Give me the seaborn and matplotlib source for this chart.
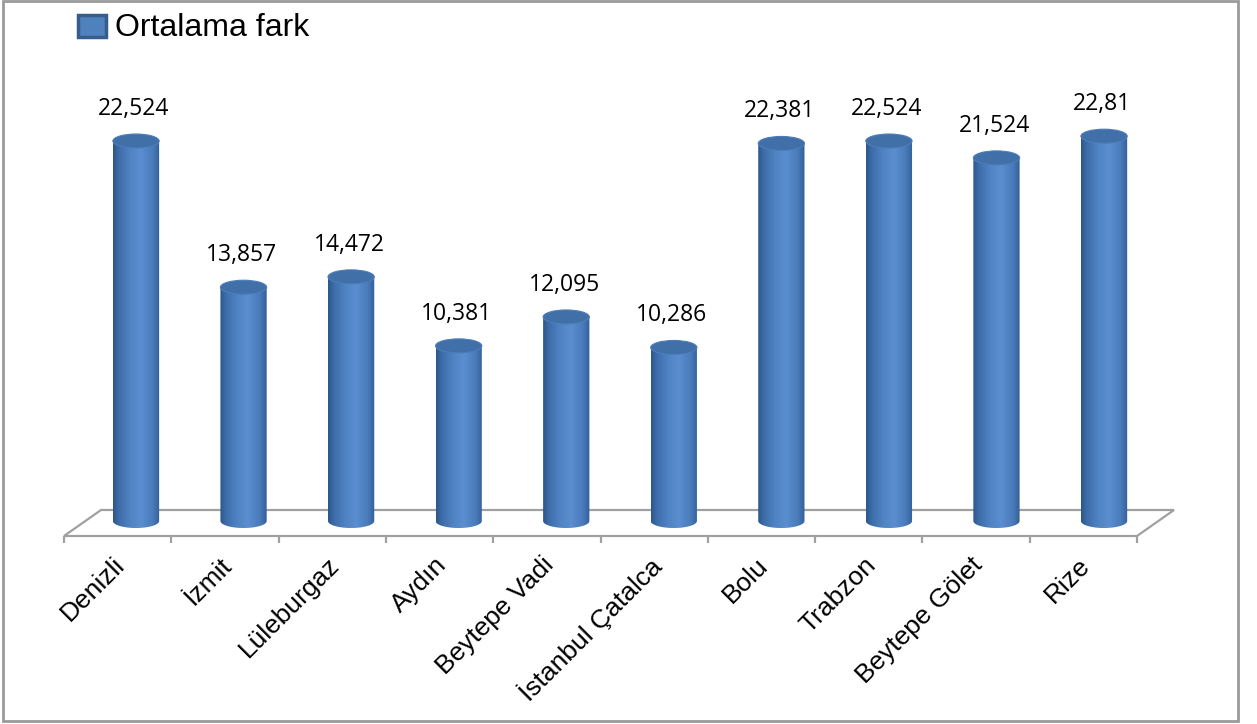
import numpy as np
import pandas as pd
import matplotlib
matplotlib.use("Agg")
import matplotlib.pyplot as plt
import seaborn as sns
from matplotlib.patches import Ellipse, PathPatch, Rectangle, Polygon
from matplotlib.path import Path
from matplotlib.colors import LinearSegmentedColormap

# ---- data ----
categories = ["Denizli", "İzmit", "Lüleburgaz", "Aydın", "Beytepe Vadi",
              "İstanbul Çatalca", "Bolu", "Trabzon", "Beytepe Gölet", "Rize"]
values = [22.524, 13.857, 14.472, 10.381, 12.095, 10.286, 22.381, 22.524, 21.524, 22.81]
value_labels = ["22,524", "13,857", "14,472", "10,381", "12,095", "10,286",
                "22,381", "22,524", "21,524", "22,81"]
series_name = "Ortalama fark"

sns.set_theme(style="white")
plt.rcParams["font.family"] = ["Liberation Sans", "DejaVu Sans"]

W, H = 1257, 724
fig = plt.figure(figsize=(W / 100, H / 100), dpi=100)

# figure border
fig.patches.append(Rectangle((3 / W, 3 / H), (1238 - 3) / W, (H - 3 - 1) / H,
                             transform=fig.transFigure, fill=False,
                             edgecolor="#9a9a9a", linewidth=2))

# axes placement (pixel based)
px_per_x = 107.56
px_per_y = 16.87
x_center0 = 136.0
base_py = 521.0
xlim = (-0.8, 9.8)
ylim = (-3.0, 28.0)
left_px = x_center0 + (xlim[0]) * px_per_x
right_px = x_center0 + (xlim[1]) * px_per_x
bot_py = base_py - ylim[0] * px_per_y
top_py = base_py - ylim[1] * px_per_y
ax = fig.add_axes([left_px / W, 1 - bot_py / H, (right_px - left_px) / W, (bot_py - top_py) / H])

df = pd.DataFrame({"cat": categories, "val": values})
bar_w = 0.43
sns.barplot(data=df, x="cat", y="val", width=bar_w, color="#4F81BD", ax=ax,
            saturation=1, zorder=3)
ax.set_xlim(*xlim)
ax.set_ylim(*ylim)
ax.axis("off")

# floor (3D-looking base)
front_y = (base_py - 536) / px_per_y
back_y = (base_py - 510) / px_per_y
front_l = (64 - x_center0) / px_per_x
front_r = (1137 - x_center0) / px_per_x
depth_dx = (101 - 64) / px_per_x
floor = Polygon([(front_l, front_y), (front_r, front_y),
                 (front_r + depth_dx, back_y), (front_l + depth_dx, back_y)],
                closed=True, facecolor="white", edgecolor="#a0a0a0", linewidth=1.6, zorder=1)
ax.add_patch(floor)
n = len(categories)
step = (front_r - front_l) / n
tick_len = 7 / px_per_y
for i in range(n + 1):
    xt = front_l + i * step
    ax.plot([xt, xt], [front_y, front_y - tick_len], color="#a0a0a0", lw=1.6, zorder=1,
            solid_capstyle="butt")

# gradient colormap for cylinders
cyl = LinearSegmentedColormap.from_list("cyl", [
    (0.0, "#2B5689"), (0.12, "#3D6CA8"), (0.35, "#4F82C2"), (0.6, "#5A8ED0"),
    (0.85, "#4A7BBA"), (1.0, "#315F98")])
grad = np.linspace(0, 1, 256).reshape(1, -1)
ell_h = 14 / px_per_y

for i, p in enumerate(list(ax.patches)):
    if not isinstance(p, Rectangle) or p is floor:
        continue
    x0, w, h = p.get_x(), p.get_width(), p.get_height()
    if w <= 0:
        continue
    p.set_visible(False)
    xc = x0 + w / 2
    # outline: rect + bottom half ellipse
    t = np.linspace(np.pi, 2 * np.pi, 60)
    arc_x = xc + (w / 2) * np.cos(t)
    arc_y = 0 + (ell_h / 2) * np.sin(t)
    verts = [(x0, h)] + list(zip(arc_x, arc_y)) + [(x0 + w, h), (x0, h)]
    codes = [Path.MOVETO] + [Path.LINETO] * (len(verts) - 2) + [Path.CLOSEPOLY]
    body = PathPatch(Path(verts, codes), transform=ax.transData, facecolor="none",
                     edgecolor="none")
    ax.add_patch(body)
    im = ax.imshow(grad, cmap=cyl, aspect="auto", extent=[x0, x0 + w, -ell_h / 2, h],
                   zorder=3, interpolation="bicubic")
    im.set_clip_path(body)
    top = Ellipse((xc, h), w, ell_h, facecolor="#416FA8", edgecolor="#4C7DBB",
                  linewidth=0.8, zorder=4)
    ax.add_patch(top)
    ax.text(xc - 0.02, h + 1.9, value_labels[i], ha="center", va="center",
            fontsize=16.5, family=["Open Sans", "DejaVu Sans"], color="#000000", zorder=5)

# category labels
for i, c in enumerate(categories):
    xl = front_l + (i + 0.5) * step - 0.05
    ax.text(xl, front_y - 1.0, c, rotation=45, rotation_mode="anchor", ha="right",
            va="top", fontsize=19, color="#000000")

ax.set_ylim(*ylim)
ax.set_xlim(*xlim)

# legend
fig.patches.append(Rectangle((78 / W, 1 - 37 / H), 28 / W, 22 / H, transform=fig.transFigure,
                             facecolor="#4F81BD", edgecolor="#385D8A", linewidth=2.5))
fig.text(115 / W, 1 - 28 / H, series_name, ha="left", va="center", fontsize=23, color="#000000")

fig.savefig("out.png", dpi=100, facecolor="white")
